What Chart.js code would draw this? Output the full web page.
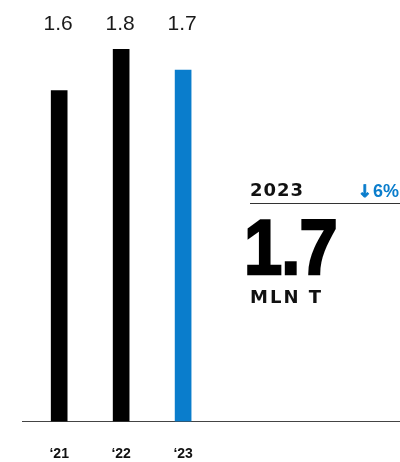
<!DOCTYPE html>
<html lang="en">
<head>
  <meta charset="UTF-8" />
  <title>Volume 2021-2023</title>
  <script src="https://cdn.jsdelivr.net/npm/chart.js"></script>
  <style>
    body {
      margin: 0;
      background: #fff;
    }

    .wrap {
      position: relative;
      width: 400px;
      height: 462px;
    }

    .panel-year {
      position: absolute;
      left: 250px;
      top: 181px;
      font: bold 18px 'DejaVu Sans', sans-serif;
      line-height: 18px;
      letter-spacing: 1px;
      color: #111;
    }

    .panel-change {
      position: absolute;
      right: 1px;
      top: 181px;
      font: bold 18px 'Liberation Sans', Arial, sans-serif;
      line-height: 18px;
      color: #0a7dcc;
    }

    .panel-change .arrow {
      font: bold 17px 'DejaVu Sans', sans-serif;
      -webkit-text-stroke: 0.8px #0a7dcc;
      margin-right: 1px;
    }

    .panel-rule {
      position: absolute;
      left: 250px;
      top: 203px;
      width: 150px;
      height: 1px;
      background: #333;
    }

    .panel-value {
      position: absolute;
      left: 244px;
      top: 208px;
      font: bold 78px 'Liberation Sans', Arial, sans-serif;
      line-height: 78px;
      letter-spacing: -1px;
      -webkit-text-stroke: 2.5px #000;
      color: #000;
      transform: scaleX(0.88);
      transform-origin: left top;
    }

    .panel-unit {
      position: absolute;
      left: 250px;
      top: 288px;
      font: bold 18px 'DejaVu Sans', sans-serif;
      line-height: 18px;
      letter-spacing: 2px;
      color: #111;
    }
  </style>
</head>
<body>

  <div class="wrap">
    <canvas id="volumeChart"></canvas>
    <div class="panel-year" id="panelYear"></div>
    <div class="panel-change"><span class="arrow" id="changeArrow"></span><span id="changeText"></span></div>
    <div class="panel-rule"></div>
    <div class="panel-value" id="panelValue"></div>
    <div class="panel-unit" id="panelUnit"></div>
  </div>

  <script>
    // data
    const years = ['\u201821', '\u201822', '\u201823'];
    const volumes = [1.6, 1.8, 1.7];
    const barColors = ['#000000', '#000000', '#0a7dcc'];

    const latestYear = '2023';
    const changeArrow = '\u2193';
    const changeText = '6%';
    const latestValue = '1.7';
    const unit = 'MLN T';

    document.getElementById('panelYear').textContent = latestYear;
    document.getElementById('changeArrow').textContent = changeArrow;
    document.getElementById('changeText').textContent = changeText;
    document.getElementById('panelValue').textContent = latestValue;
    document.getElementById('panelUnit').textContent = unit;

    // value labels sit in one row above the bars
    const topLabels = {
      id: 'topLabels',
      afterDatasetsDraw(chart) {
        const ctx = chart.ctx;
        const bars = chart.getDatasetMeta(0).data;
        ctx.save();
        ctx.font = '21px "Liberation Sans", Arial, sans-serif';
        ctx.fillStyle = '#1a1a1a';
        ctx.textAlign = 'center';
        ctx.textBaseline = 'alphabetic';
        bars.forEach((bar, i) => {
          ctx.fillText(volumes[i].toFixed(1), bar.x - 1, 30);
        });
        ctx.restore();
      }
    };

    new Chart(document.getElementById('volumeChart'), {
      type: 'bar',
      data: {
        datasets: [{
          data: volumes.map((v, i) => ({ x: i, y: v })),
          backgroundColor: barColors,
          barThickness: 16
        }]
      },
      options: {
        responsive: true,
        maintainAspectRatio: false,
        animation: false,
        layout: {
          padding: { left: 22, right: 0, top: 8, bottom: 0 }
        },
        plugins: {
          legend: { display: false },
          tooltip: { enabled: false }
        },
        scales: {
          x: {
            type: 'linear',
            min: -0.6,
            max: 5.5,
            offset: false,
            afterBuildTicks: axis => {
              axis.ticks = years.map((_, i) => ({ value: i }));
            },
            afterFit: axis => {
              axis.height = 40.5;
            },
            grid: { display: false, drawTicks: false },
            border: { display: true, color: '#444', width: 1 },
            ticks: {
              padding: 24.5,
              maxRotation: 0,
              autoSkip: false,
              color: '#111',
              font: { family: '"Liberation Sans", Arial, sans-serif', size: 14, weight: 'bold' },
              callback: value => years[value] ?? ''
            }
          },
          y: {
            display: false,
            min: 0,
            max: 2
          }
        }
      },
      plugins: [topLabels]
    });
  </script>

</body>
</html>
